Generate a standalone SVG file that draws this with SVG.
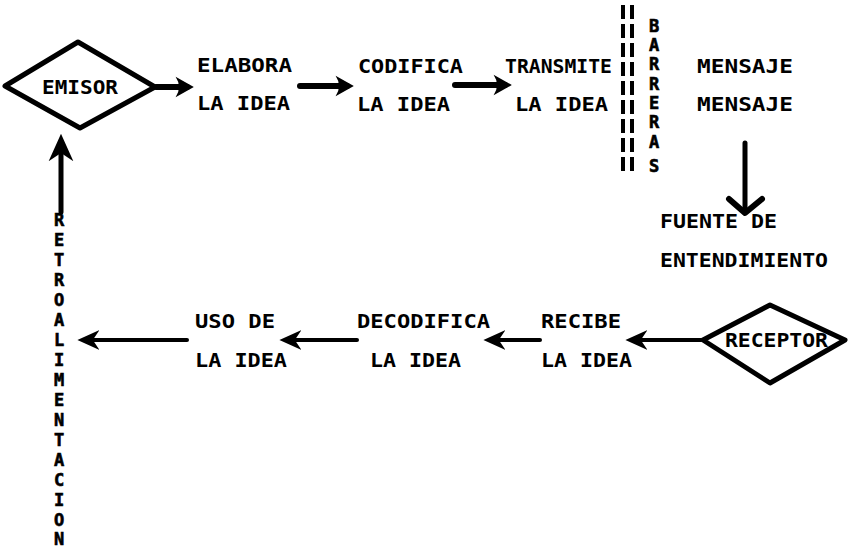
<svg xmlns="http://www.w3.org/2000/svg" width="849" height="549" viewBox="0 0 849 549">
<defs>
<style>
.t{font-family:"DejaVu Sans Mono","Liberation Mono",monospace;font-weight:bold;font-size:19px;fill:#000}
.v{font-family:"DejaVu Sans Mono","Liberation Mono",monospace;font-weight:bold;font-size:17px;fill:#000;text-anchor:middle;stroke:#000;stroke-width:0.6}
.d{fill:#fff;stroke:#000;stroke-width:5;stroke-linejoin:round}
.a{stroke:#000;fill:none;stroke-linecap:round}
.b{stroke:#000;stroke-width:4;stroke-dasharray:14 5;fill:none}
</style>
<marker id="ah" viewBox="0 0 10 10" refX="6" refY="5" markerWidth="3.8" markerHeight="3.8" orient="auto" markerUnits="strokeWidth">
<path d="M1,0.5 L9,5 L1,9.5 Q4,5 1,0.5 Z" fill="#000"/>
</marker>
<marker id="ah2" viewBox="0 0 10 10" refX="7" refY="5" markerWidth="5.5" markerHeight="5.5" orient="auto" markerUnits="strokeWidth">
<path d="M0,0.5 L10,5 L0,9.5 L3,5 Z" fill="#000"/>
</marker>
</defs>
<rect width="849" height="549" fill="#fff"/>
<g id="connectors">
<line class="a" x1="156" y1="87" x2="187" y2="87" stroke-width="6" marker-end="url(#ah)"/>
<line class="a" x1="300" y1="86" x2="347" y2="86" stroke-width="6" marker-end="url(#ah)"/>
<line class="a" x1="455" y1="85" x2="505" y2="85" stroke-width="6" marker-end="url(#ah)"/>
<line class="a" x1="745" y1="143" x2="745" y2="210" stroke-width="5"/>
<polyline class="a" points="729,199 745,213 762,199" stroke-width="6" stroke-linejoin="round"/>
<line class="a" x1="61" y1="212" x2="61" y2="142" stroke-width="5" marker-end="url(#ah2)"/>
<line class="a" x1="701" y1="340" x2="632" y2="340" stroke-width="4" marker-end="url(#ah2)"/>
<line class="a" x1="540" y1="340" x2="490" y2="340" stroke-width="4" marker-end="url(#ah2)"/>
<line class="a" x1="357" y1="340" x2="286" y2="340" stroke-width="4" marker-end="url(#ah2)"/>
<line class="a" x1="187" y1="340" x2="84" y2="340" stroke-width="4" marker-end="url(#ah2)"/>
</g>
<g id="emisor">
<polygon class="d" points="5,86 78,42 155,87 80,128"/>
<text class="t" x="42" y="94" textLength="76" lengthAdjust="spacingAndGlyphs" font-size="18">EMISOR</text>
</g>
<g id="elabora">
<text class="t" x="197" y="72" textLength="95" lengthAdjust="spacingAndGlyphs">ELABORA</text>
<text class="t" x="197" y="110" textLength="93" lengthAdjust="spacingAndGlyphs">LA IDEA</text>
</g>
<g id="codifica">
<text class="t" x="358" y="73" textLength="105" lengthAdjust="spacingAndGlyphs">CODIFICA</text>
<text class="t" x="357" y="111" textLength="93" lengthAdjust="spacingAndGlyphs">LA IDEA</text>
</g>
<g id="transmite">
<text class="t" x="505" y="73" textLength="107" lengthAdjust="spacingAndGlyphs">TRANSMITE</text>
<text class="t" x="515" y="111" textLength="93" lengthAdjust="spacingAndGlyphs">LA IDEA</text>
</g>
<g id="barreras">
<line class="b" x1="623" y1="5" x2="623" y2="176"/>
<line class="b" x1="632" y1="5" x2="632" y2="176"/>
<text class="v" x="654" y="32">B</text>
<text class="v" x="654" y="51">A</text>
<text class="v" x="654" y="70">R</text>
<text class="v" x="654" y="90">R</text>
<text class="v" x="654" y="109">E</text>
<text class="v" x="654" y="128">R</text>
<text class="v" x="654" y="148">A</text>
<text class="v" x="654" y="172">S</text>
</g>
<g id="mensaje">
<text class="t" x="697" y="73" textLength="96" lengthAdjust="spacingAndGlyphs">MENSAJE</text>
<text class="t" x="697" y="111" textLength="96" lengthAdjust="spacingAndGlyphs">MENSAJE</text>
</g>
<g id="fuente">
<text class="t" x="660" y="228" textLength="117" lengthAdjust="spacingAndGlyphs">FUENTE DE</text>
<text class="t" x="660" y="267" textLength="168" lengthAdjust="spacingAndGlyphs">ENTENDIMIENTO</text>
</g>
<g id="receptor">
<polygon class="d" points="703,340 770,305 845,340 770,383"/>
<text class="t" x="725" y="347" textLength="103" lengthAdjust="spacingAndGlyphs" font-size="18">RECEPTOR</text>
</g>
<g id="recibe">
<text class="t" x="541" y="328" textLength="80" lengthAdjust="spacingAndGlyphs">RECIBE</text>
<text class="t" x="541" y="367" textLength="91" lengthAdjust="spacingAndGlyphs">LA IDEA</text>
</g>
<g id="decodifica">
<text class="t" x="357" y="328" textLength="133" lengthAdjust="spacingAndGlyphs">DECODIFICA</text>
<text class="t" x="370" y="367" textLength="91" lengthAdjust="spacingAndGlyphs">LA IDEA</text>
</g>
<g id="uso">
<text class="t" x="195" y="328" textLength="80" lengthAdjust="spacingAndGlyphs">USO DE</text>
<text class="t" x="195" y="367" textLength="92" lengthAdjust="spacingAndGlyphs">LA IDEA</text>
</g>
<g id="retroalimentacion">
<text class="v" x="59" y="226">R</text>
<text class="v" x="59" y="246">E</text>
<text class="v" x="59" y="266">T</text>
<text class="v" x="59" y="286">R</text>
<text class="v" x="59" y="306">O</text>
<text class="v" x="59" y="326">A</text>
<text class="v" x="59" y="346">L</text>
<text class="v" x="59" y="366">I</text>
<text class="v" x="59" y="386">M</text>
<text class="v" x="59" y="406">E</text>
<text class="v" x="59" y="426">N</text>
<text class="v" x="59" y="446">T</text>
<text class="v" x="59" y="466">A</text>
<text class="v" x="59" y="486">C</text>
<text class="v" x="59" y="506">I</text>
<text class="v" x="59" y="526">O</text>
<text class="v" x="59" y="545">N</text>
</g>
</svg>
